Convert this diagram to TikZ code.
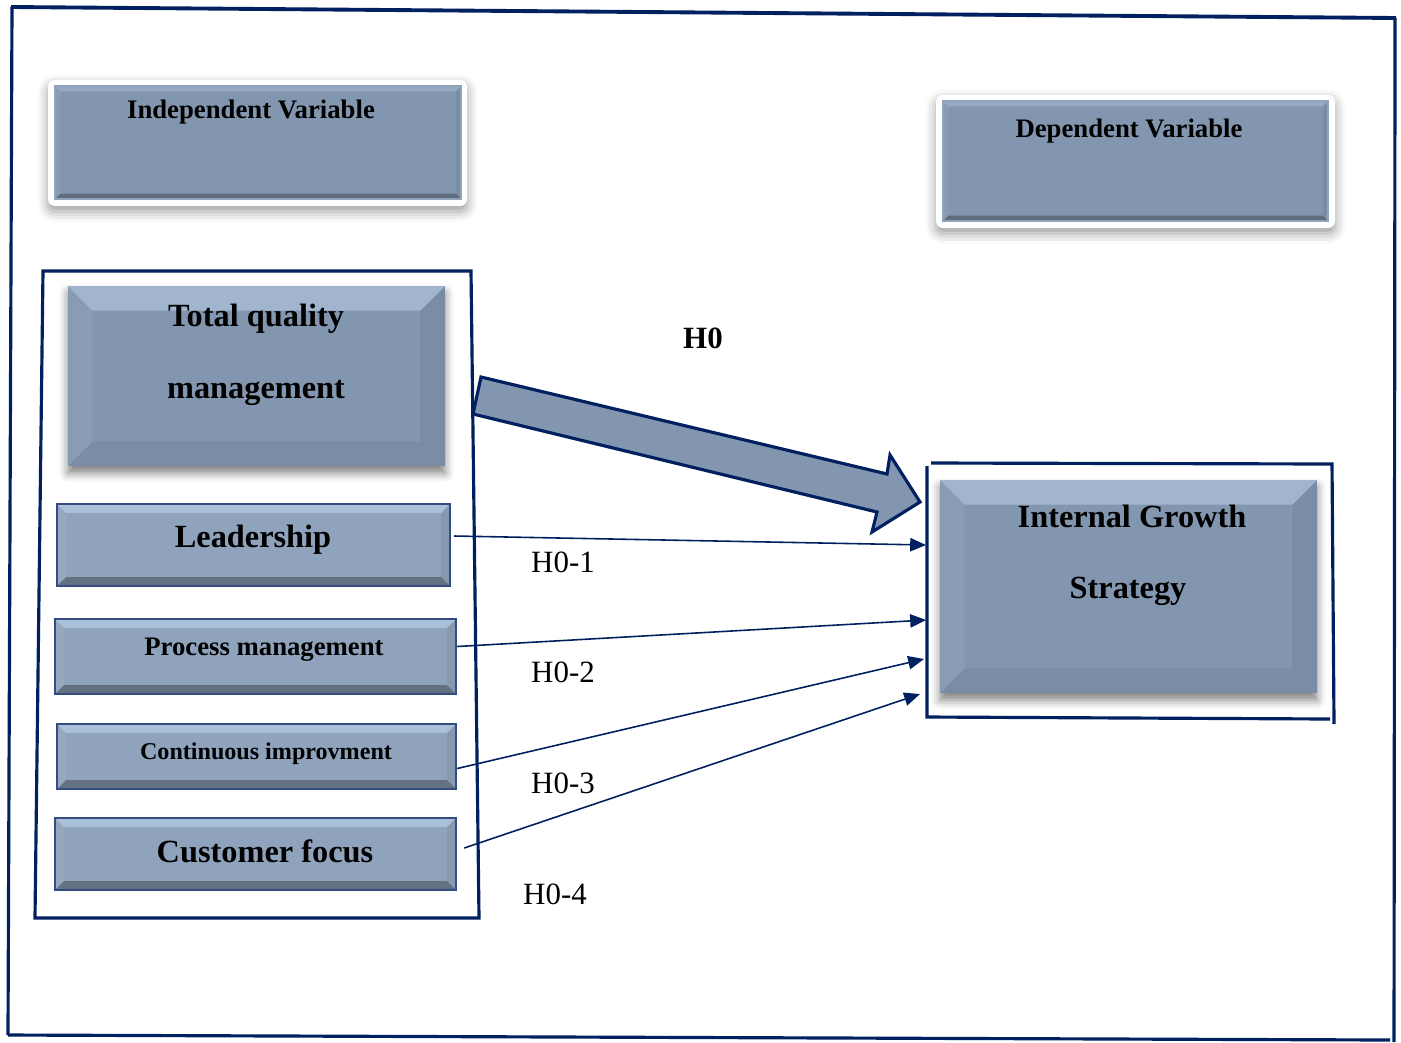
\documentclass[tikz,border=0pt]{standalone}
\usepackage{fontspec}
\setmainfont{Liberation Serif}
\usetikzlibrary{arrows.meta,fit,shadows.blur,calc}
\definecolor{navy}{HTML}{002060}
\definecolor{slate}{HTML}{8396AF}
\definecolor{slatelight}{HTML}{8FA3BD}
\definecolor{iceblue}{HTML}{C6DBF5}
\tikzset{
  bevel/.style n args={3}{path picture={
    \fill[iceblue,opacity=#2] (path picture bounding box.north west) -- (path picture bounding box.north east) -- ([xshift=-#1,yshift=-#1]path picture bounding box.north east) -- ([xshift=#1,yshift=-#1]path picture bounding box.north west) -- cycle;
    \fill[white,opacity=0.06] (path picture bounding box.north west) -- ([xshift=#1,yshift=-#1]path picture bounding box.north west) -- ([xshift=#1,yshift=#1]path picture bounding box.south west) -- (path picture bounding box.south west) -- cycle;
    \fill[black,opacity=0.06] (path picture bounding box.north east) -- ([xshift=-#1,yshift=-#1]path picture bounding box.north east) -- ([xshift=-#1,yshift=#1]path picture bounding box.south east) -- (path picture bounding box.south east) -- cycle;
    \fill[black,opacity=#3] (path picture bounding box.south west) -- ([xshift=#1,yshift=#1]path picture bounding box.south west) -- ([xshift=-#1,yshift=#1]path picture bounding box.south east) -- (path picture bounding box.south east) -- cycle;
  }},
  glow/.style={fill=white, inner sep=0pt, rounded corners=2pt,
    blur shadow={shadow xshift=0pt, shadow yshift=-1.5pt, shadow blur radius=3pt, shadow opacity=40}},
  varbox/.style={fill=slate, draw=slatelight, line width=0.6pt, inner sep=0pt, bevel={1.5pt}{0.3}{0.28}},
  bigbox/.style={fill=slate, inner sep=0pt, bevel={7pt}{0.45}{0.06},
    blur shadow={shadow xshift=0pt, shadow yshift=-2pt, shadow blur radius=2.5pt, shadow opacity=50}},
  smallbox/.style={fill=slatelight, draw=navy!80, line width=0.7pt, inner sep=0pt, bevel={2.5pt}{0.5}{0.3}},
  frameline/.style={draw=navy, line width=0.9pt},
  conn/.style={draw=navy, line width=0.45pt, -{Triangle[length=4.5pt,width=3.8pt]}},
  bigtxt/.style={font=\bfseries\fontsize{9.2}{10}\selectfont, inner sep=0pt},
  midtxt/.style={font=\bfseries\fontsize{7.6}{8}\selectfont, inner sep=0pt},
  hlbl/.style={font=\fontsize{8.8}{9}\selectfont, inner sep=0pt},
}
\begin{document}
\begin{tikzpicture}[x=0.01cm,y=-0.01cm]
\useasboundingbox (0,0) rectangle (1401,1042);
% outer frame
\draw[navy, line width=1.1pt] (11,7) -- (1396,18);
\draw[navy, line width=0.9pt] (12,7) -- (8,1035);
\draw[navy, line width=0.9pt] (8,1035) -- (1390,1040);
\draw[navy, line width=0.9pt] (1395,18) -- (1394,1042);

% Independent / Dependent variable headers
\node[glow, fit={(48,80) (467,206)}] (ivg) {};
\node[varbox, fit={(55,86) (461,199)}] (iv) {};
\node[midtxt] (ivt) at (251,112) {Independent Variable};
\node[glow, fit={(936,95) (1335,228)}] (dvg) {};
\node[varbox, fit={(943,101) (1328,221)}] (dv) {};
\node[midtxt] (dvt) at (1129,131) {Dependent Variable};

% left group frame
\draw[frameline] (43,271) -- (471,271) -- (479,918) -- (35,918) -- cycle;

% TQM
\node[bigbox, fit={(68,286) (445,466)}] (tqm) {};
\node[bigtxt] (tqm1) at (256,319) {Total quality};
\node[bigtxt] (tqm2) at (256,393) {management};

% dimensions
\node[smallbox, fit={(57,504) (450,586)}] (lead) {};
\node[bigtxt] (leadt) at (253,540) {Leadership};
\node[smallbox, fit={(55,619) (456,694)}] (proc) {};
\node[midtxt] (proct) at (264,650) {Process management};
\node[smallbox, fit={(57,724) (456,789)}] (cont) {};
\node[font=\bfseries\fontsize{6.85}{7}\selectfont, inner sep=0pt] (contt) at (266,754) {Continuous improvment};
\node[smallbox, fit={(55,818) (456,890)}] (cust) {};
\node[bigtxt] (custt) at (265,851) {Customer focus};

% Internal growth strategy
\draw[frameline] (931,463) -- (1332,464) -- (1334,724);
\draw[frameline] (927,466) -- (927,717) -- (1330,719);
\node[bigbox, fit={(940,480) (1317,693)}] (igs) {};
\node[bigtxt] (igs1) at (1132,516) {Internal Growth};
\node[bigtxt] (igs2) at (1128,591) {Strategy};

% big arrow H0
\filldraw[fill=slate, draw=navy, line width=0.9pt, line join=miter]
  (481,377) -- (887,474) -- (890,455) -- (920,502) -- (872,532) -- (877,512) -- (473,414) -- cycle;
\node[font=\bfseries\fontsize{8.8}{9}\selectfont, inner sep=0pt] (h0) at (703,338) {H0};

% thin arrows
\coordinate (e1) at (926,545);
\coordinate (e2) at (926,620);
\coordinate (e3) at (924,659);
\coordinate (e4) at (920,694);
\draw[conn] ($(lead.east)+(3,-9)$) -- (e1);
\draw[conn] ($(proc.east)+(0,-10)$) -- (e2);
\draw[conn] ($(cont.east)+(0,12)$) -- (e3);
\draw[conn] ($(cust.east)+(7,-6)$) -- (e4);
\node[hlbl] (l1) at (563,562) {H0-1};
\node[hlbl] (l2) at (563,672) {H0-2};
\node[hlbl] (l3) at (563,783) {H0-3};
\node[hlbl] (l4) at (555,894) {H0-4};
\end{tikzpicture}
\end{document}
